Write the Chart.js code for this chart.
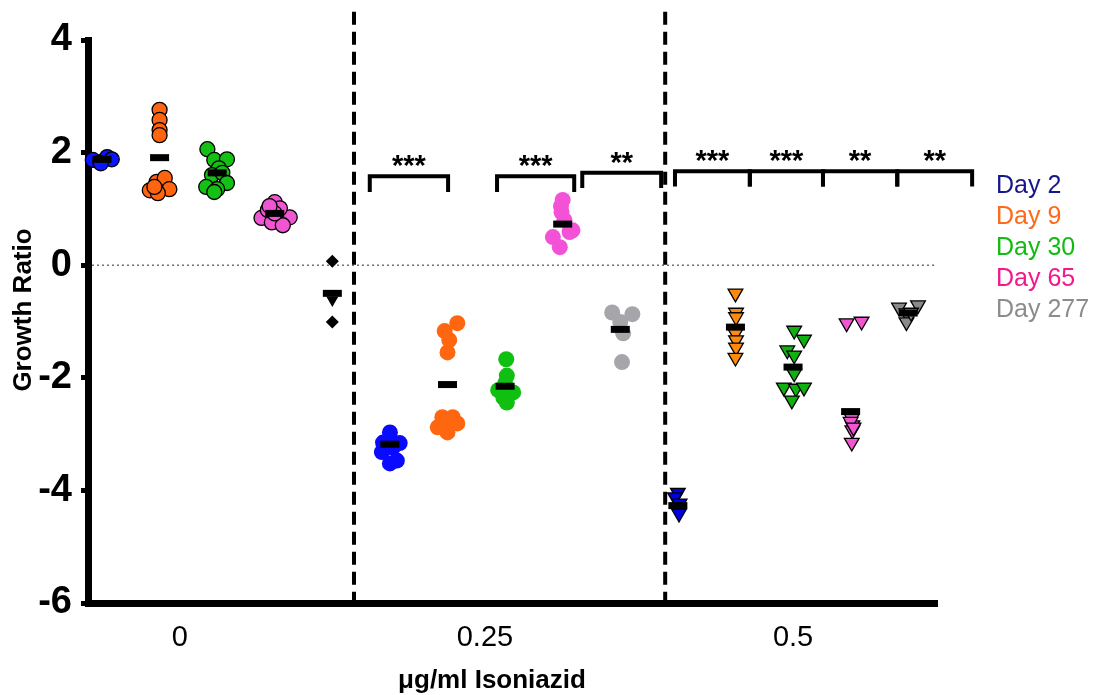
<!DOCTYPE html>
<html>
<head>
<meta charset="utf-8">
<script src="https://cdn.jsdelivr.net/npm/chart.js@4"></script>
<style>
  body { margin: 0; background: #fff; }
</style>
</head>
<body>
<canvas id="growth" width="1105" height="695"></canvas>
<script>
// growth ratio of isolates, by isoniazid concentration (0 / 0.25 / 0.5 ug/ml) and sampling day
const dayLabels = ['Day 2', 'Day 9', 'Day 30', 'Day 65', 'Day 277'];
const dayTextColors = ['#17178c', '#ff6a1a', '#11bb11', '#f5188c', '#8c8c8c'];

const xTickPos = [1.35, 6.65, 12.0];
const xTickLabels = ['0', '0.25', '0.5'];
const yTicks = [-6, -4, -2, 0, 2, 4];

// 0 ug/ml  (slots 0..3 = days, slot 4 = reference strain)
const inh0_day2  = [1.87, 1.83, 1.92, 1.88, 1.81];
const inh0_day9  = [2.76, 2.58, 2.40, 2.31, 1.33, 1.48, 1.55, 1.35, 1.28, 1.39];
const inh0_day30 = [2.06, 1.87, 1.88, 1.72, 1.60, 1.64, 1.46, 1.39, 1.35, 1.30];
const inh0_day65 = [1.12, 0.84, 0.85, 0.76, 1.01, 0.98, 0.71, 0.92, 1.05];
const inh0_ref   = [0.07, -1.01];
const inh0_refTri = [-0.62];
const inh0_means = [1.88, 1.91, 1.64, 0.92, -0.50];

// 0.25 ug/ml (slots 5..9)
const inh025_day2   = [-2.97, -3.15, -3.16, -3.32, -3.24, -3.52, -3.47];
const inh025_day9   = [-1.03, -1.17, -1.33, -1.55, -2.70, -2.70, -2.88, -2.81, -2.97, -2.79];
const inh025_day30  = [-1.67, -1.96, -2.22, -2.26, -2.44, -2.35, -2.10];
const inh025_day65  = [1.16, 0.94, 0.80, 0.50, 0.59, 0.32, 0.62, 1.05];
const inh025_day277 = [-0.84, -0.87, -1.01, -1.21, -1.72];
const inh025_means  = [-3.18, -2.12, -2.15, 0.73, -1.14];

// 0.5 ug/ml (slots 10..14)
const inh05_day2   = [-4.04, -4.12, -4.23, -4.41];
const inh05_day9   = [-0.50, -0.84, -0.92, -1.21, -1.33, -1.46, -1.64];
const inh05_day30  = [-1.16, -1.32, -1.51, -1.60, -1.92, -2.17, -2.19, -2.17, -2.40];
const inh05_day65  = [-1.03, -1.00, -2.72, -2.84, -2.93, -3.15, -2.78, -2.88];
const inh05_day277 = [-0.75, -0.71, -0.85, -1.01, -0.84];
const inh05_means  = [-4.27, -1.10, -1.81, -2.60, -0.85];

// horizontal scatter of the dots inside each column
const spread0   = [[-0.16, -0.03, 0.09, 0.17, -0.02],
                   [0, 0, 0, 0, -0.17, -0.05, 0.09, 0.17, -0.03, -0.09],
                   [-0.17, -0.05, 0.17, 0.03, -0.09, 0.09, 0.17, -0.19, 0, -0.05],
                   [0, -0.23, 0.26, -0.05, 0.09, -0.12, 0.14, 0, -0.09]];
const spread025 = [[0, -0.12, 0.17, -0.14, 0.05, 0, 0.12],
                   [0.17, -0.05, 0.03, 0, -0.09, 0.09, -0.17, 0.17, 0, -0.02],
                   [0.02, 0.03, -0.12, 0.14, 0.03, -0.03, 0],
                   [0, -0.02, 0.03, -0.17, 0.12, -0.05, 0.17, -0.03],
                   [-0.14, 0.21, 0, 0.05, 0.03]];
const spread05  = [[0, -0.05, 0.03, 0.02],
                   [0, 0.01, 0.01, 0, 0.01, 0.01, 0],
                   [0.02, 0.19, -0.1, 0.02, 0.02, -0.16, 0.05, 0.19, -0.02],
                   [-0.07, 0.19, 0.02, 0.03, 0.03, 0.02, 0, 0.05],
                   [-0.16, 0.17, -0.03, -0.03, 0.05]];

// dashed separators between concentrations
const sepPos = [4.376, 9.78];

// significance brackets
const bracketFrom  = [4.65, 6.86, 8.34, 9.95, 11.25, 12.52, 13.81];
const bracketTo    = [6.01, 8.20, 9.71, 11.25, 12.52, 13.81, 15.11];
const bracketTop   = [1.58, 1.58, 1.64, 1.67, 1.67, 1.67, 1.67];
const bracketFoot  = [1.30, 1.30, 1.37, 1.40, 1.40, 1.40, 1.40];
const bracketStars = ['***', '***', '**', '***', '***', '**', '**'];

const FONT = "'Liberation Sans', Arial, sans-serif";

function pts(slot, vals, dx) {
  return vals.map((v, i) => ({ x: slot + (dx ? dx[i] : 0), y: v }));
}

function dots(slot, vals, dx, fill, shape) {
  const ds = { data: pts(slot, vals, dx), pointBackgroundColor: fill, clip: false, order: 1 };
  if (shape == 'edge') {
    Object.assign(ds, { pointStyle: 'circle', pointRadius: 7.5, pointBorderColor: '#000', pointBorderWidth: 1.3 });
  } else if (shape == 'flat') {
    Object.assign(ds, { pointStyle: 'circle', pointRadius: 8, pointBorderColor: fill, pointBorderWidth: 0 });
  } else {
    Object.assign(ds, { pointStyle: 'triangle', pointRotation: 180, pointRadius: 8.5, pointBorderColor: '#000', pointBorderWidth: 1.3 });
  }
  return ds;
}

// mean bars sit on top of the dots (lower order = drawn later)
function meanBars(firstSlot, means) {
  return {
    data: means.map((m, i) => ({ x: firstSlot + i, y: m })),
    pointStyle: 'line', pointRadius: 9.5, pointBorderWidth: 7, pointBorderColor: '#000',
    clip: false, order: 0
  };
}

const datasets = [
  dots(0, inh0_day2, spread0[0], '#0a14ff', 'edge'),
  dots(1, inh0_day9, spread0[1], '#ff6510', 'edge'),
  dots(2, inh0_day30, spread0[2], '#14c014', 'edge'),
  dots(3, inh0_day65, spread0[3], '#f055d2', 'edge'),
  { data: pts(4, inh0_ref), pointStyle: 'rectRot', pointRadius: 6.5, pointBackgroundColor: '#000', pointBorderWidth: 0, clip: false, order: 1 },
  { data: pts(4, inh0_refTri), pointStyle: 'triangle', pointRotation: 180, pointRadius: 7, pointBackgroundColor: '#000', pointBorderWidth: 0, clip: false, order: 1 },
  meanBars(0, inh0_means),

  dots(5, inh025_day2, spread025[0], '#0a0aff', 'flat'),
  dots(6, inh025_day9, spread025[1], '#ff6610', 'flat'),
  dots(7, inh025_day30, spread025[2], '#10c010', 'flat'),
  dots(8, inh025_day65, spread025[3], '#f452d6', 'flat'),
  dots(9, inh025_day277, spread025[4], '#a6a6aa', 'flat'),
  meanBars(5, inh025_means),

  dots(10, inh05_day2, spread05[0], '#0000e0', 'tri'),
  dots(11, inh05_day9, spread05[1], '#ff8a10', 'tri'),
  dots(12, inh05_day30, spread05[2], '#10b010', 'tri'),
  dots(13, inh05_day65, spread05[3], '#f055d2', 'tri'),
  dots(14, inh05_day277, spread05[4], '#8a8a8a', 'tri'),
  meanBars(10, inh05_means)
];

// dotted zero line, separators, brackets, legend and axis titles
const decor = {
  id: 'decor',
  beforeDatasetsDraw(chart) {
    const { ctx, chartArea, scales: { x, y } } = chart;
    ctx.save();
    ctx.strokeStyle = '#707070';
    ctx.lineWidth = 1.5;
    ctx.setLineDash([2, 3]);
    ctx.beginPath();
    ctx.moveTo(chartArea.left + 4, y.getPixelForValue(0));
    ctx.lineTo(chartArea.right, y.getPixelForValue(0));
    ctx.stroke();

    ctx.strokeStyle = '#000';
    ctx.lineWidth = 4;
    ctx.setLineDash([13, 7]);
    sepPos.forEach(p => {
      const px = x.getPixelForValue(p);
      ctx.beginPath();
      ctx.moveTo(px, y.getPixelForValue(4.5));
      ctx.lineTo(px, chartArea.bottom);
      ctx.stroke();
    });
    ctx.restore();
  },
  afterDatasetsDraw(chart) {
    const { ctx, scales: { x, y } } = chart;
    ctx.save();
    ctx.strokeStyle = '#000';
    ctx.lineWidth = 4;
    ctx.lineJoin = 'miter';
    ctx.fillStyle = '#000';
    ctx.font = 'bold 29px ' + FONT;
    ctx.textAlign = 'center';
    ctx.textBaseline = 'alphabetic';
    bracketFrom.forEach((from, i) => {
      const x1 = x.getPixelForValue(from), x2 = x.getPixelForValue(bracketTo[i]);
      const top = y.getPixelForValue(bracketTop[i]), foot = y.getPixelForValue(bracketFoot[i]);
      ctx.beginPath();
      ctx.moveTo(x1, foot);
      ctx.lineTo(x1, top);
      ctx.lineTo(x2, top);
      ctx.lineTo(x2, foot);
      ctx.stroke();
      ctx.fillText(bracketStars[i], (x1 + x2) / 2, top - 1);
    });

    // legend
    ctx.textAlign = 'left';
    ctx.font = '25px ' + FONT;
    dayLabels.forEach((lab, i) => {
      ctx.fillStyle = dayTextColors[i];
      ctx.fillText(lab, 996, 193 + i * 31);
    });

    // axis titles
    ctx.fillStyle = '#000';
    ctx.font = 'bold 26px ' + FONT;
    ctx.textAlign = 'center';
    ctx.fillText('\u03bcg/ml Isoniazid', 492, 688);
    ctx.translate(24, 310);
    ctx.rotate(-Math.PI / 2);
    ctx.textBaseline = 'middle';
    ctx.fillText('Growth Ratio', 0, 0);
    ctx.restore();
  }
};

new Chart(document.getElementById('growth'), {
  type: 'scatter',
  data: { datasets: datasets },
  options: {
    responsive: false,
    animation: false,
    layout: { padding: { top: 40, right: 168, left: 0, bottom: 0 } },
    plugins: { legend: { display: false }, tooltip: { enabled: false } },
    scales: {
      x: {
        type: 'linear', min: -0.243, max: 14.5,
        afterBuildTicks: ax => { ax.ticks = xTickPos.map(v => ({ value: v })); },
        afterFit: ax => { ax.height = 92; },
        grid: { display: false, drawTicks: false },
        border: { display: true, color: '#000', width: 7 },
        ticks: {
          callback: (v, i) => xTickLabels[i],
          color: '#000', font: { family: FONT, size: 29 }, padding: 18,
          maxRotation: 0, autoSkip: false
        }
      },
      y: {
        min: -6, max: 4,
        afterBuildTicks: ax => { ax.ticks = yTicks.map(v => ({ value: v })); },
        afterFit: ax => { ax.width = 88; },
        grid: { drawOnChartArea: false, drawTicks: true, tickLength: 7, tickWidth: 5, tickColor: '#000' },
        border: { display: true, color: '#000', width: 7 },
        ticks: { color: '#000', font: { family: FONT, size: 38, weight: 'bold' }, padding: 9 }
      }
    }
  },
  plugins: [decor]
});
</script>
</body>
</html>
